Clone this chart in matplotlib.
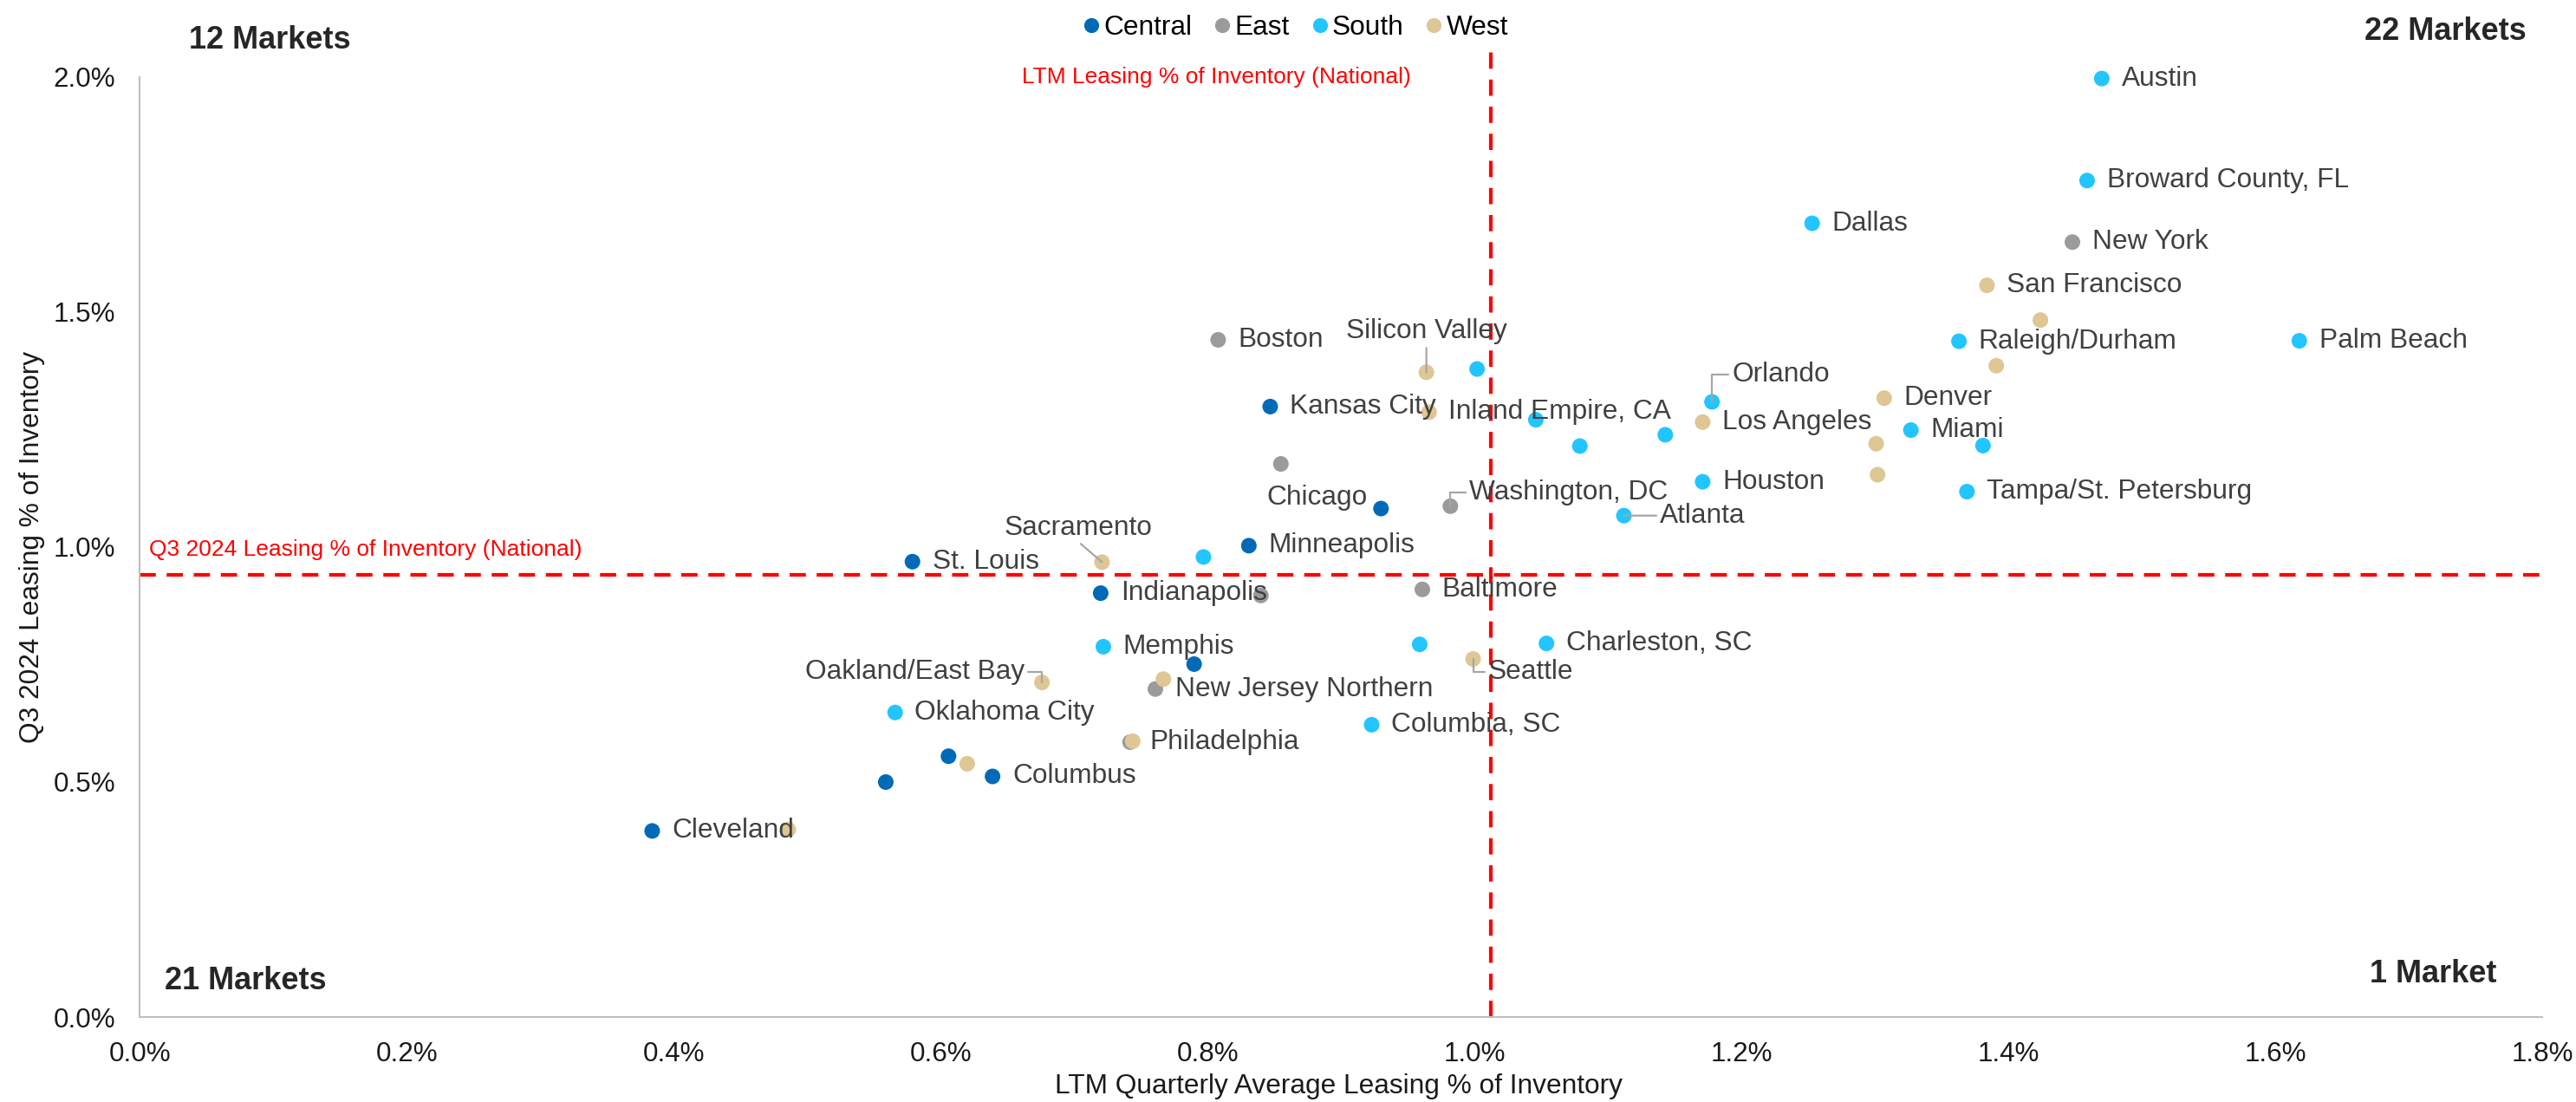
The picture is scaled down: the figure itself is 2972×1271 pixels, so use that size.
import matplotlib
matplotlib.use('Agg')
import matplotlib.pyplot as plt
from matplotlib.lines import Line2D
from matplotlib.ticker import FuncFormatter, MultipleLocator

plt.rcParams['font.family'] = ['Liberation Sans', 'DejaVu Sans']

# values in percent (LTM quarterly avg leasing % vs Q3 2024 leasing %)
CENTRAL_NAMES = ['Kansas City', 'Chicago', 'Minneapolis', 'St. Louis', 'Indianapolis',
                 '', '', 'Columbus', '', 'Cleveland']
CENTRAL_X = [0.847, 0.930, 0.831, 0.579, 0.720, 0.790, 0.606, 0.639, 0.559, 0.384]
CENTRAL_Y = [1.299, 1.082, 1.003, 0.969, 0.902, 0.751, 0.555, 0.512, 0.500, 0.396]

EAST_NAMES = ['New York', 'Boston', '', 'Washington, DC', '', 'Baltimore',
              'New Jersey Northern', 'Philadelphia']
EAST_X = [1.448, 0.808, 0.855, 0.982, 0.840, 0.961, 0.761, 0.742]
EAST_Y = [1.649, 1.441, 1.177, 1.087, 0.897, 0.910, 0.698, 0.585]

SOUTH_NAMES = ['Austin', 'Broward County, FL', 'Dallas', 'Raleigh/Durham', 'Palm Beach', '',
               'Orlando', '', 'Miami', '', '', '', 'Houston', 'Tampa/St. Petersburg',
               'Atlanta', '', 'Memphis', '', 'Charleston, SC', 'Oklahoma City', 'Columbia, SC']
SOUTH_X = [1.470, 1.459, 1.253, 1.363, 1.618, 1.002, 1.178, 1.046, 1.327, 1.381, 1.079,
           1.143, 1.171, 1.369, 1.112, 0.797, 0.722, 0.959, 1.054, 0.566, 0.923]
SOUTH_Y = [1.997, 1.780, 1.689, 1.438, 1.439, 1.379, 1.309, 1.271, 1.249, 1.216, 1.215,
           1.239, 1.139, 1.118, 1.067, 0.979, 0.788, 0.793, 0.795, 0.648, 0.622]

WEST_NAMES = ['San Francisco', '', '', 'Silicon Valley', 'Inland Empire, CA', 'Denver',
              'Los Angeles', '', '', 'Sacramento', 'Oakland/East Bay', '', 'Seattle', '', '', '']
WEST_X = [1.384, 1.424, 1.391, 0.964, 0.966, 1.307, 1.171, 1.301, 1.302, 0.721, 0.676,
          0.767, 0.999, 0.744, 0.620, 0.486]
WEST_Y = [1.557, 1.483, 1.386, 1.372, 1.287, 1.317, 1.266, 1.220, 1.154, 0.968, 0.712,
          0.719, 0.762, 0.587, 0.539, 0.399]

NATIONAL_LTM = 1.012
NATIONAL_Q3 = 0.941

QUADRANT_TEXT = ['12 Markets', '22 Markets', '21 Markets', '1 Market']

SERIES = [
    ('Central', CENTRAL_NAMES, CENTRAL_X, CENTRAL_Y, '#006AB7'),
    ('East', EAST_NAMES, EAST_X, EAST_Y, '#9B9B9B'),
    ('South', SOUTH_NAMES, SOUTH_X, SOUTH_Y, '#22C5FF'),
    ('West', WEST_NAMES, WEST_X, WEST_Y, '#DEC695'),
]

# label placement overrides: offset (pt), ha, leader type, leader start on text bbox
LABEL_POS = {
    'Silicon Valley': ((0, 17), 'center', 'straight', (0.5, 0)),
    'Sacramento': ((-10, 14), 'center', 'straight', (0.5, 0)),
    'Chicago': ((-5.5, 4.6), 'right', None, None),
    'Orlando': ((8.3, 11.3), 'left', 'elbow', (0, 0.5)),
    'Washington, DC': ((7.8, 5.7), 'left', 'elbow', (0, 0.5)),
    'Atlanta': ((15, 0), 'left', 'straight', (0, 0.5)),
    'Oakland/East Bay': ((-7.2, 4.5), 'right', 'elbow', (1, 0.5)),
    'Seattle': ((6.2, -5.3), 'left', 'elbow', (0, 0.5)),
}

LABEL_COLOR = '#404040'
LEADER_COLOR = '#A6A6A6'

fig = plt.figure(figsize=(14.86, 6.355), dpi=200)
ax = fig.add_axes([0.0542, 0.0771, 0.9327, 0.8529])

for name, labels, xs, ys, color in SERIES:
    ax.scatter(xs, ys, s=42, color=color, edgecolors='none', zorder=2, label=name,
               clip_on=False)

# national reference lines
ax.axhline(NATIONAL_Q3, color='#FF0000', lw=1.5, dashes=(4.5, 3), zorder=1)
ax.plot([NATIONAL_LTM, NATIONAL_LTM], [0, 2.057], color='#FF0000', lw=1.5,
        dashes=(4.5, 3), zorder=1, clip_on=False)
ax.annotate('LTM Leasing % of Inventory (National)', xy=(NATIONAL_LTM, 1.0),
            xycoords=('data', 'axes fraction'), xytext=(-33, 0), textcoords='offset points',
            ha='right', va='center', color='#FF0000', fontsize=9.5)
ax.annotate('Q3 2024 Leasing % of Inventory (National)', xy=(0, NATIONAL_Q3),
            xytext=(4, 10.4), textcoords='offset points', ha='left', va='center',
            color='#FF0000', fontsize=9.5)

# data labels
for name, labels, xs, ys, color in SERIES:
    for lab, x, y in zip(labels, xs, ys):
        if not lab:
            continue
        off, ha, leader, relpos = LABEL_POS.get(lab, ((8.2, 0), 'left', None, None))
        kw = {}
        if leader is not None:
            kw['arrowprops'] = dict(
                arrowstyle='-', color=LEADER_COLOR, lw=0.8, relpos=relpos,
                patchA=None, shrinkA=1.5, shrinkB=0,
                connectionstyle='arc3' if leader == 'straight'
                else 'angle,angleA=0,angleB=90,rad=0')
        ax.annotate(lab, xy=(x, y), xytext=off, textcoords='offset points',
                    ha=ha, va='center', fontsize=11.4, color=LABEL_COLOR, zorder=4, **kw)

# quadrant counts
qkw = dict(transform=ax.transAxes, fontsize=13, fontweight='bold', color='#262626', va='center')
ax.text(0.0206, 1.0394, QUADRANT_TEXT[0], ha='left', **qkw)
ax.text(0.9935, 1.0486, QUADRANT_TEXT[1], ha='right', **qkw)
ax.text(0.0104, 0.0384, QUADRANT_TEXT[2], ha='left', **qkw)
ax.text(0.9812, 0.0458, QUADRANT_TEXT[3], ha='right', **qkw)

ax.set_xlim(0, 1.8)
ax.set_ylim(0, 2.0)
ax.xaxis.set_major_locator(MultipleLocator(0.2))
ax.yaxis.set_major_locator(MultipleLocator(0.5))
pct = FuncFormatter(lambda v, _: f'{v:.1f}%')
ax.xaxis.set_major_formatter(pct)
ax.yaxis.set_major_formatter(pct)
ax.tick_params(length=0, pad=10, labelsize=11.3, labelcolor='#1a1a1a')

for side in ('top', 'right'):
    ax.spines[side].set_visible(False)
for side in ('left', 'bottom'):
    ax.spines[side].set_color('#BFBFBF')
    ax.spines[side].set_linewidth(0.75)

ax.set_ylabel('Q3 2024 Leasing % of Inventory', fontsize=11.4, color='#1a1a1a')
ax.yaxis.set_label_coords(-0.0393, 0.5)
# x title sits on the bottom edge, as in the source
fig.text(0.5198, 0.002, 'LTM Quarterly Average Leasing % of Inventory', ha='center',
         va='bottom', fontsize=11.4, color='#1a1a1a')

handles = [Line2D([], [], marker='o', ls='none', markersize=6.2, color=c, markeredgewidth=0)
           for _, _, _, _, c in SERIES]
fig.legend(handles, [s[0] for s in SERIES], loc='center', bbox_to_anchor=(0.503, 0.975),
           ncol=4, frameon=False, fontsize=11.4, handlelength=0.6, handletextpad=0.15,
           columnspacing=0.8, borderaxespad=0)

fig.savefig('out.png', dpi=200)
